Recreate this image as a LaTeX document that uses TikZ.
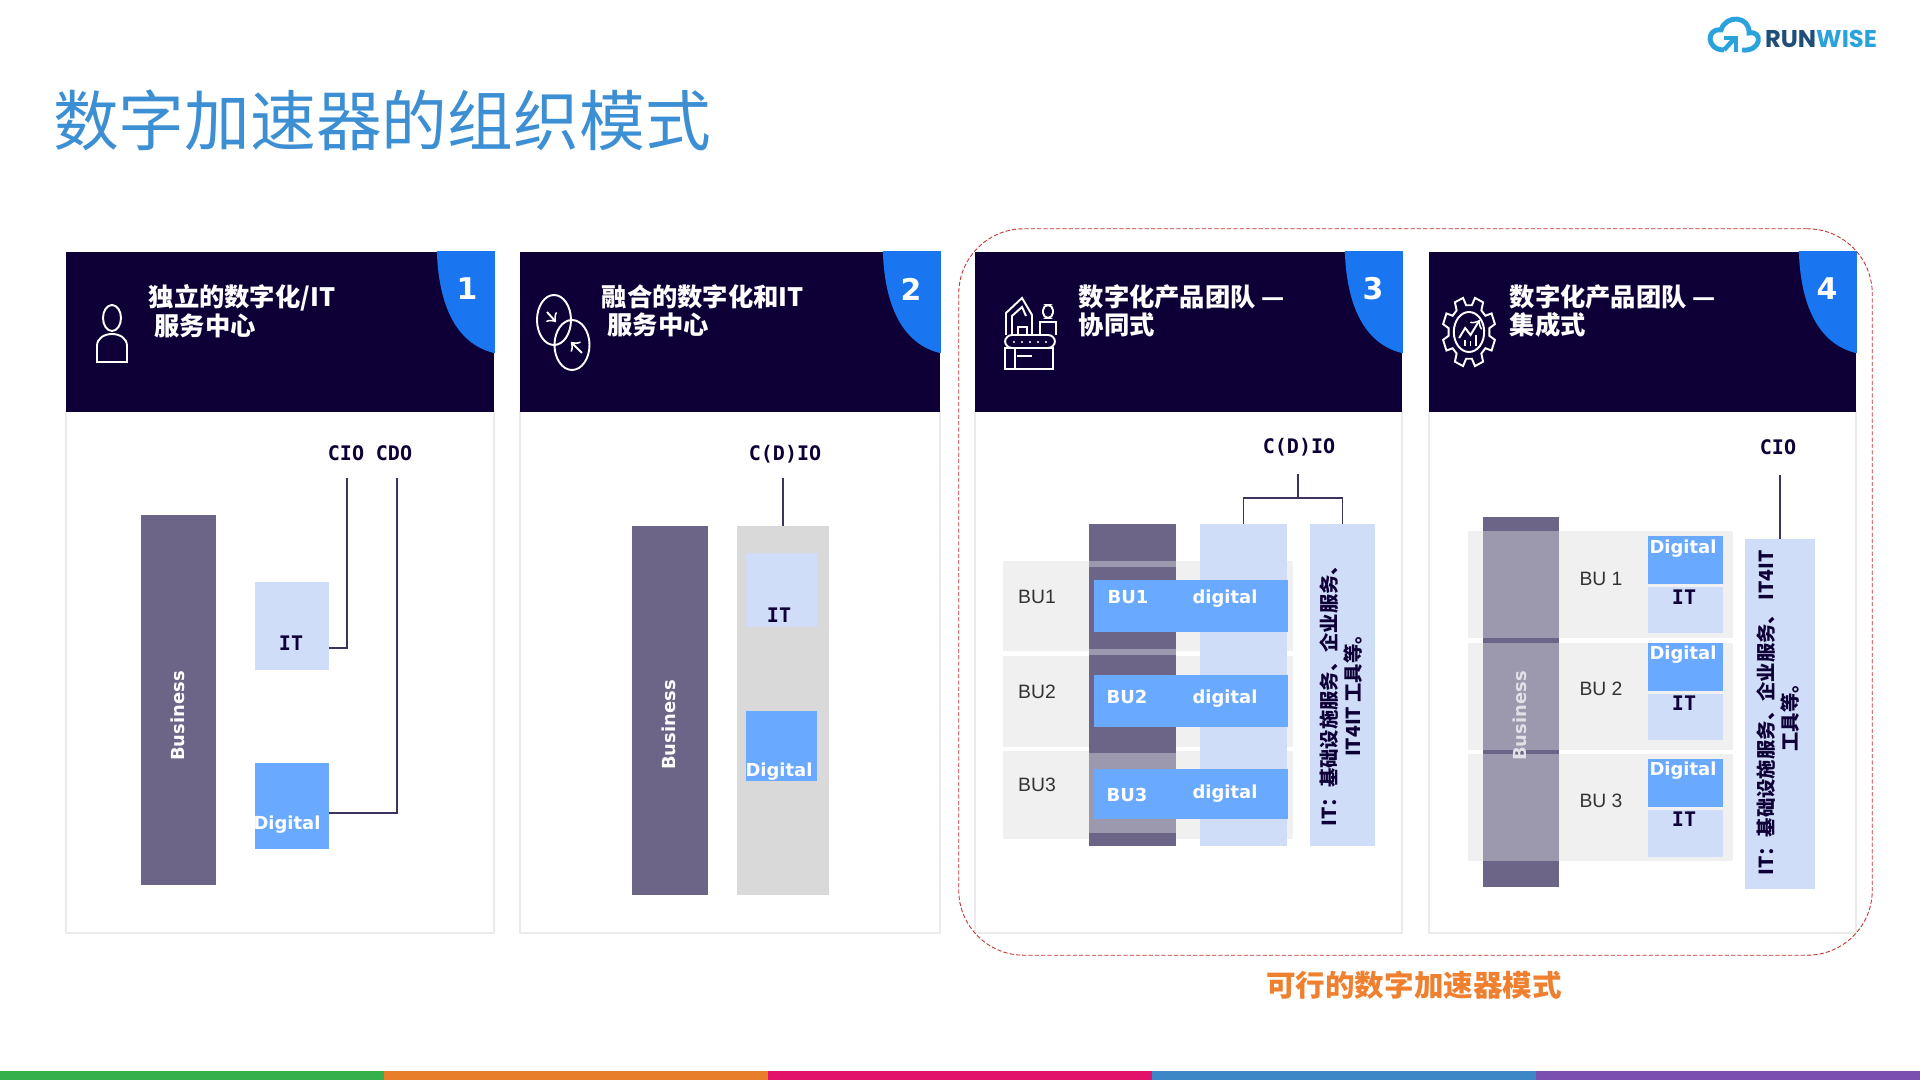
\documentclass[tikz,border=0pt]{standalone}
\usepackage{fontspec}
\setmainfont{Noto Sans CJK SC}
\newfontfamily\latinbold{DejaVu Sans}
\newfontfamily\slabbold{DejaVu Sans Mono}
\newfontfamily\plainfont{Liberation Sans}
\newfontfamily\logofont{Poppins}
\usetikzlibrary{positioning}
\definecolor{headnavy}{HTML}{0E0036}
\definecolor{cornerblue}{HTML}{1A75F0}
\definecolor{bizdark}{HTML}{6C6587}
\definecolor{bizlight}{HTML}{9C98AE}
\definecolor{itpale}{HTML}{CFDDF8}
\definecolor{digiblue}{HTML}{69A9FF}
\definecolor{titleblue}{HTML}{3D8FD4}
\definecolor{logoblue}{HTML}{2AA3DC}
\definecolor{lognavy}{HTML}{1F4E79}
\definecolor{goodorange}{HTML}{EE8030}
\definecolor{stripgreen}{HTML}{35B04A}
\definecolor{striporange}{HTML}{E87E2A}
\definecolor{strippink}{HTML}{E2126B}
\definecolor{stripblue}{HTML}{3D87C7}
\definecolor{strippurple}{HTML}{7A4FB0}

\begin{document}
\begin{tikzpicture}[
    x=0.01cm, y=-0.01cm,
    head/.style={rectangle, fill=headnavy, minimum height=1.60cm, inner sep=0pt},
    panel/.style={rectangle, draw=black!8, fill=white, minimum height=5.22cm, inner sep=0pt},
    bar/.style={rectangle, inner sep=0pt, outer sep=0pt},
    headtext/.style={anchor=west, align=left, inner sep=0pt, text=white, font=\fontsize{7.2}{8.6}\selectfont\bfseries},
    num/.style={inner sep=0pt, text=white, font=\fontsize{8.5}{9}\selectfont\latinbold\bfseries},
    whitetext/.style={inner sep=0pt, text=white, font=\fontsize{5.1}{6}\selectfont\latinbold\bfseries},
    slabtext/.style={inner sep=0pt, text=headnavy, font=\fontsize{5.7}{6}\selectfont\slabbold\bfseries},
    butext/.style={inner sep=0pt, text=black!80, font=\fontsize{5.5}{6}\selectfont\plainfont},
    sidetext/.style={inner sep=0pt, rotate=90, align=center, text=headnavy, font=\fontsize{5.5}{7}\selectfont\bfseries},
    link/.style={draw=headnavy!80, line width=0.3pt},
    iconline/.style={draw=white, line width=0.55pt}
]
\useasboundingbox (0,0) rectangle (1920,1080);

\node[inner sep=0pt, text=titleblue, font=\fontsize{18.7}{20}\selectfont] (title) at (382,120) {数字加速器的组织模式};

\draw[logoblue, line width=1.4pt] (1724,50) .. controls (1706,50) and (1706,28) .. (1721,30) .. controls (1726,14) and (1750,16) .. (1749,33) .. controls (1763,30) and (1762,52) .. (1742,50);
\draw[logoblue, line width=1.3pt] (1724,50) -- (1735,38);
\draw[logoblue, line width=1.3pt] (1724,38) -- (1736,38) -- (1736,52);
\node[inner sep=0pt, font=\fontsize{6.9}{8}\selectfont\logofont\bfseries] (logo) at (1821,39) {\textcolor{lognavy}{RUN}\textcolor{logoblue}{WISE}};

\node[panel, minimum width=4.28cm] (panel1) at (280,672) {};
\node[panel, minimum width=4.20cm] (panel2) at (730,672) {};
\node[panel, minimum width=4.27cm] (panel3) at (1188.5,672) {};
\node[panel, minimum width=4.27cm] (panel4) at (1642.5,672) {};
\node[head, minimum width=4.28cm] (head1) at (280,332) {};
\node[head, minimum width=4.20cm] (head2) at (730,332) {};
\node[head, minimum width=4.27cm] (head3) at (1188.5,332) {};
\node[head, minimum width=4.27cm] (head4) at (1642.5,332) {};

\foreach \h in {head1,head2,head3,head4}
    \fill[cornerblue] (\h.north east) ++(-58,0) .. controls +(2,60) and +(-35,-8) .. ++(58,102) -- (\h.north east) -- cycle;

\node[num] (num1) at (467,289) {1};
\node[num] (num2) at (911,289) {2};
\node[num] (num3) at (1373,289) {3};
\node[num] (num4) at (1827,289) {4};

\node[headtext] (headtext1) at (148,311) {独立的数字化/IT\\[-0.5pt]\ 服务中心};
\node[headtext] (headtext2) at (601,311) {融合的数字化和IT\\[-0.5pt]\ 服务中心};
\node[headtext] (headtext3) at (1078,311) {数字化产品团队 —\\[-0.5pt]协同式};
\node[headtext] (headtext4) at (1509,311) {数字化产品团队 —\\[-0.5pt]集成式};

\draw[iconline] (112,318) ellipse (9 and 13);
\draw[iconline] (97,362) -- (97,346) .. controls (97,330) and (127,330) .. (127,346) -- (127,362) -- cycle;

\draw[iconline] (554,320) ellipse (17 and 25);
\draw[iconline] (572,345) ellipse (17.5 and 25);
\draw[iconline, ->] (547,312) -- (556,322);
\draw[iconline, ->] (582,353) -- (571,342);

\draw[iconline] (1005,348) rectangle (1053,369);
\draw[iconline] (1015,348) -- (1015,369);
\draw[iconline] (1017,356) -- (1032,356);
\draw[iconline, rounded corners=2pt] (1005,335) rectangle (1055,348);
\foreach \x in {1014,1022,1030,1038,1046}
    \fill[white] (\x,342) circle (1.2);
\draw[iconline] (1006,335) -- (1006,313) -- (1022,298) -- (1032,315) -- (1032,335);
\draw[iconline] (1012,335) -- (1012,316) -- (1022,307) -- (1026,316);
\draw[iconline] (1018,335) -- (1018,327) -- (1027,327) -- (1027,335);
\draw[iconline, rounded corners=1.5pt] (1043,305) rectangle (1053,318);
\draw[iconline] (1040,335) -- (1040,322) -- (1056,322) -- (1056,335);

\begin{scope}[shift={(1469,332)}, xscale=.76]
\draw[iconline] (0,0) circle (20);
\draw[iconline] (8:27)
    \foreach \a in {0,45,...,315} { -- (\a+8:27) -- (\a+13:35) -- (\a+32:35) -- (\a+37:27) } -- cycle;
\draw[iconline, ->] (-13,6) -- (-5,-4) -- (2,3) -- (14,-12);
\draw[iconline] (-5,14) -- (-5,8) (2,14) -- (2,9) (9,14) -- (9,3);
\end{scope}

\node[bar, fill=bizdark, minimum width=.75cm, minimum height=3.7cm] (business1) at (178.5,700) {};
\node[bar, fill=itpale, minimum width=.74cm, minimum height=.88cm] (it1) at (292,626) {};
\node[bar, fill=digiblue, minimum width=.74cm, minimum height=.86cm] (digital1) at (292,806) {};
\node[whitetext, rotate=90] (businesstext1) at (178,716) {Business};
\node[slabtext] (ittext1) at (291,643) {IT};
\node[whitetext] (digitaltext1) at (287,825) {Digital};
\node[slabtext] (cio1) at (346,453) {CIO};
\node[slabtext] (cdo1) at (394,453) {CDO};
\coordinate (ciotop1) at (347,478);
\coordinate (cdotop1) at (397,478);
\coordinate (itport1) at (329,648);
\coordinate (digitalport1) at (329,813);
\draw[link] (ciotop1) |- (itport1);
\draw[link] (cdotop1) |- (digitalport1);

\node[bar, fill=bizdark, minimum width=.76cm, minimum height=3.69cm] (business2) at (670,710.5) {};
\node[bar, fill=black!15, minimum width=.92cm, minimum height=3.69cm] (group2) at (783,710.5) {};
\node[bar, fill=itpale, minimum width=.71cm, minimum height=.74cm] (it2) at (781.5,590) {};
\node[bar, fill=digiblue, minimum width=.71cm, minimum height=.70cm] (digital2) at (781.5,746) {};
\node[whitetext, rotate=90] (businesstext2) at (669,725) {Business};
\node[slabtext] (ittext2) at (779,615) {IT};
\node[whitetext] (digitaltext2) at (779,772) {Digital};
\node[slabtext] (cdio2) at (785,454) {C(D)IO};
\coordinate (cdiotop2) at (783,478);
\draw[link] (cdiotop2) -- (group2.north -| cdiotop2);

\node[bar, fill=black!6, minimum width=2.9cm, minimum height=.90cm] (band31) at (1148,606) {};
\node[bar, fill=black!6, minimum width=2.9cm, minimum height=.91cm] (band32) at (1148,701.5) {};
\node[bar, fill=black!6, minimum width=2.9cm, minimum height=.88cm] (band33) at (1148,795) {};
\node[bar, fill=bizdark, minimum width=.87cm, minimum height=3.22cm] (dark3) at (1132.5,685) {};
\node[bar, fill=bizlight, minimum width=.87cm, minimum height=.80cm] (dim3) at (1132.5,793) {};
\node[bar, fill=bizlight, minimum width=.87cm, minimum height=.06cm] (strip31) at (1132.5,564) {};
\node[bar, fill=bizlight, minimum width=.87cm, minimum height=.06cm] (strip32) at (1132.5,652) {};
\node[bar, fill=itpale, minimum width=.87cm, minimum height=3.22cm] (light3) at (1243.5,685) {};
\node[bar, fill=itpale, minimum width=.65cm, minimum height=3.22cm] (itbar3) at (1342.5,685) {};
\node[bar, fill=digiblue, minimum width=1.94cm, minimum height=.52cm] (row31) at (1191,606) {};
\node[bar, fill=digiblue, minimum width=1.94cm, minimum height=.52cm] (row32) at (1191,701) {};
\node[bar, fill=digiblue, minimum width=1.94cm, minimum height=.50cm] (row33) at (1191,794) {};
\node[butext] (bulabel31) at (1037,597) {BU1};
\node[butext] (bulabel32) at (1037,692) {BU2};
\node[butext] (bulabel33) at (1037,785) {BU3};
\node[whitetext] (rowbu31) at (1128,597) {BU1};
\node[whitetext] (rowbu32) at (1127,697) {BU2};
\node[whitetext] (rowbu33) at (1127,795) {BU3};
\node[whitetext] (rowdigital31) at (1225,599) {digital};
\node[whitetext] (rowdigital32) at (1225,699) {digital};
\node[whitetext] (rowdigital33) at (1225,794) {digital};
\node[sidetext] (sidetext3) at (1341,691) {IT：基础设施服务、企业服务、\\IT4IT 工具等。};
\node[slabtext] (cdio3) at (1299,447) {C(D)IO};
\coordinate (cdiotop3) at (1298,474);
\coordinate (join3) at (1298,498);
\draw[link] (cdiotop3) -- (join3);
\draw[link] (join3) -| (light3.north);
\draw[link] (join3) -| (itbar3.north);

\foreach \i/\y in {1/584.5,2/696.5,3/807.5} {
    \node[bar, fill=black!6, minimum width=2.65cm, minimum height=1.06cm] (band4\i) at (1600.5,\y) {};
}
\node[bar, fill=bizdark, minimum width=.76cm, minimum height=3.7cm] (dark4) at (1521,702) {};
\foreach \i/\y in {1/584.5,2/696.5,3/807.5} {
    \node[bar, fill=bizlight, minimum width=.76cm, minimum height=1.06cm] (dim4\i) at (1521,\y) {};
}
\foreach \i/\d/\t in {1/560/610,2/667/717,3/783/833.5} {
    \node[bar, fill=digiblue, minimum width=.75cm, minimum height=.48cm] (digital4\i) at (1685.5,\d) {};
    \node[bar, fill=itpale, minimum width=.75cm, minimum height=.46cm] (it4\i) at (1685.5,\t) {};
}
\foreach \i/\b/\d/\t in {1/579/549/597,2/689/655/703,3/801/771/819} {
    \node[butext] (bulabel4\i) at (1601,\b) {BU \i};
    \node[whitetext] (digitaltext4\i) at (1683,\d) {Digital};
    \node[slabtext] (ittext4\i) at (1684,\t) {IT};
}
\node[whitetext, rotate=90, text=white!80!bizdark] (businesstext4) at (1520,716) {Business};
\node[bar, fill=itpale, minimum width=.70cm, minimum height=3.5cm] (itbar4) at (1780,714) {};
\node[sidetext] (sidetext4) at (1778,713) {IT：基础设施服务、企业服务、 IT4IT\\工具等。};
\node[slabtext] (cio4) at (1778,447) {CIO};
\coordinate (ciotop4) at (1780,475);
\draw[link] (ciotop4) -- (itbar4.north);

\node[draw=red!70!black!80, dash pattern=on 1.2pt off 0.6pt, line width=0.25pt, rounded corners=0.65cm, minimum width=9.13cm, minimum height=7.26cm] (frame) at (1415.5,592) {};
\node[inner sep=0pt, text=goodorange, font=\fontsize{8.4}{9}\selectfont\bfseries] (goodtext) at (1414,985) {可行的数字加速器模式};

\foreach \c [count=\i] in {stripgreen, striporange, strippink, stripblue, strippurple} {
    \node[bar, fill=\c, minimum width=3.84cm, minimum height=.09cm] (strip\i) at ({192+384*(\i-1)},1075.5) {};
}
\end{tikzpicture}
\end{document}
